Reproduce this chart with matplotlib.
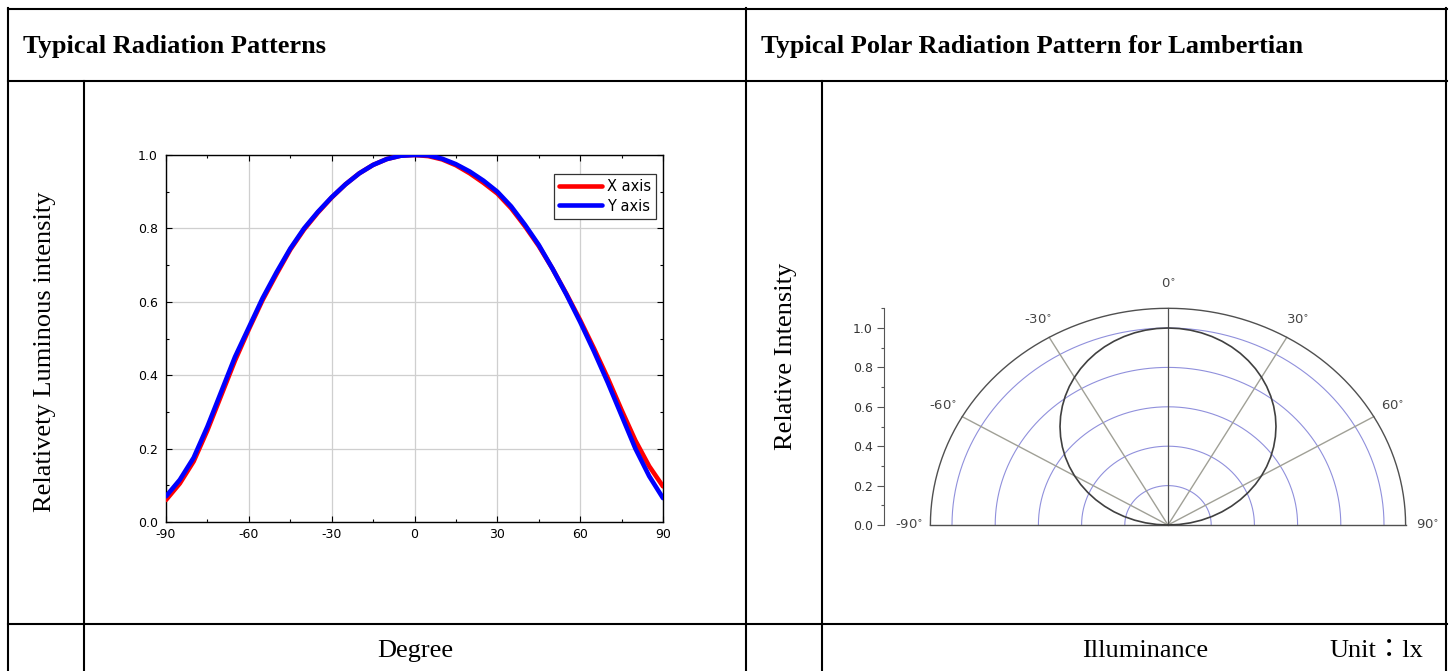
import matplotlib
matplotlib.use('Agg')
import matplotlib.pyplot as plt
from matplotlib.lines import Line2D
from matplotlib.ticker import MultipleLocator
import numpy as np

plt.rcParams['axes.unicode_minus'] = False

W, H = 1453, 671

# radiation pattern, every 5 degrees
degrees = [-90, -85, -80, -75, -70, -65, -60, -55, -50, -45, -40, -35, -30,
           -25, -20, -15, -10, -5, 0, 5, 10, 15, 20, 25, 30, 35, 40, 45, 50,
           55, 60, 65, 70, 75, 80, 85, 90]
x_axis = [0.060, 0.105, 0.165, 0.250, 0.345, 0.440, 0.525, 0.605, 0.675,
          0.742, 0.797, 0.843, 0.884, 0.920, 0.950, 0.973, 0.989, 0.998,
          1.000, 0.997, 0.988, 0.972, 0.950, 0.924, 0.895, 0.855, 0.806,
          0.752, 0.690, 0.622, 0.550, 0.473, 0.392, 0.305, 0.222, 0.152,
          0.097]
y_axis = [0.070, 0.115, 0.175, 0.260, 0.355, 0.450, 0.530, 0.610, 0.680,
          0.745, 0.800, 0.845, 0.885, 0.920, 0.950, 0.973, 0.989, 0.998,
          1.000, 0.999, 0.990, 0.975, 0.955, 0.930, 0.900, 0.860, 0.810,
          0.755, 0.690, 0.620, 0.545, 0.465, 0.380, 0.290, 0.200, 0.125,
          0.065]

# lambertian polar pattern, every 3 degrees
polar_deg = list(range(-90, 91, 3))
polar_int = [0.0000, 0.0523, 0.1045, 0.1564, 0.2079, 0.2588, 0.3090, 0.3584,
             0.4067, 0.4540, 0.5000, 0.5446, 0.5878, 0.6293, 0.6691, 0.7071,
             0.7431, 0.7771, 0.8090, 0.8387, 0.8660, 0.8910, 0.9135, 0.9336,
             0.9511, 0.9659, 0.9781, 0.9877, 0.9945, 0.9986, 1.0000, 0.9986,
             0.9945, 0.9877, 0.9781, 0.9659, 0.9511, 0.9336, 0.9135, 0.8910,
             0.8660, 0.8387, 0.8090, 0.7771, 0.7431, 0.7071, 0.6691, 0.6293,
             0.5878, 0.5446, 0.5000, 0.4540, 0.4067, 0.3584, 0.3090, 0.2588,
             0.2079, 0.1564, 0.1045, 0.0523, 0.0000]
grid_radii = [0.2, 0.4, 0.6, 0.8, 1.0]
spoke_deg = [-60, -30, 30, 60]
angle_labels = [-90, -60, -30, 0, 30, 60, 90]
r_max = 1.1

SERIF = 'Liberation Serif'
SANS = 'DejaVu Sans'


def fx(px):
    return px / W


def fy(py):
    return 1 - py / H


fig = plt.figure(figsize=(W / 100, H / 100), dpi=100, facecolor='white')

# table grid
def hline(y, x0, x1):
    fig.add_artist(Line2D([fx(x0), fx(x1)], [fy(y), fy(y)], color='black', lw=1.5))


def vline(x, y0, y1):
    fig.add_artist(Line2D([fx(x), fx(x)], [fy(y0), fy(y1)], color='black', lw=1.5))


hline(8.5, 7.5, 1446.5)
hline(81, 7.5, 1446.5)
hline(624, 7.5, 1446.5)
vline(8, 8, 671)
vline(84, 81, 671)
vline(746, 8, 671)
vline(822, 81, 671)
vline(1446, 8, 671)

fig.text(fx(23), fy(47), 'Typical Radiation Patterns', family=SERIF,
         fontweight='bold', fontsize=19, va='center', ha='left')
fig.text(fx(761), fy(47), 'Typical Polar Radiation Pattern for Lambertian',
         family=SERIF, fontweight='bold', fontsize=19, va='center', ha='left')
fig.text(fx(45), fy(352), 'Relativety Luminous intensity', family=SERIF,
         fontsize=19, rotation=90, va='center', ha='center')
fig.text(fx(786), fy(356), 'Relative Intensity', family=SERIF,
         fontsize=19, rotation=90, va='center', ha='center')
fig.text(fx(415), fy(651), 'Degree', family=SERIF, fontsize=19,
         va='center', ha='center')
fig.text(fx(1145), fy(651), 'Illuminance', family=SERIF, fontsize=19,
         va='center', ha='center')
fig.text(fx(1376), fy(651), 'Unit：lx', family=[SERIF, 'Noto Sans CJK TC'],
         fontsize=19, va='center', ha='center')

# left: cartesian radiation pattern
ax = fig.add_axes([fx(166), fy(522), (663 - 166) / W, (522 - 155) / H])
ax.plot(degrees, x_axis, color='#ff0000', lw=3.3, label='X axis', zorder=3,
        solid_joinstyle='round', solid_capstyle='round')
ax.plot(degrees, y_axis, color='#0000ff', lw=3.3, label='Y axis', zorder=4,
        solid_joinstyle='round', solid_capstyle='round')
ax.set_xlim(-90, 90)
ax.set_ylim(0, 1.0)
ax.xaxis.set_major_locator(MultipleLocator(30))
ax.xaxis.set_minor_locator(MultipleLocator(15))
ax.yaxis.set_major_locator(MultipleLocator(0.2))
ax.yaxis.set_minor_locator(MultipleLocator(0.1))
ax.yaxis.set_major_formatter(plt.FuncFormatter(lambda v, p: f'{v:.1f}'))
ax.tick_params(which='both', direction='in', top=True, right=True,
               width=0.8, labelsize=9, labelfontfamily=SANS)
ax.tick_params(axis='x', pad=4)
ax.tick_params(axis='y', pad=6)
ax.tick_params(which='major', length=4)
ax.tick_params(which='minor', length=2.5)
ax.grid(True, which='major', color='#cfcfcf', lw=0.9)
ax.set_axisbelow(True)
for s in ax.spines.values():
    s.set_linewidth(1.0)
leg = ax.legend(loc='upper right', bbox_to_anchor=(0.986, 0.948),
                borderaxespad=0, fancybox=False, framealpha=1,
                edgecolor='#333333', prop={'family': SANS, 'size': 10.5},
                handlelength=3.0, handletextpad=0.3, borderpad=0.35,
                labelspacing=0.3)
leg.get_frame().set_linewidth(0.9)

# right: polar pattern drawn on a plain axes (stretched like the source)
cx, cy, sx, sy = 1168, 525, 216, 197
pax = fig.add_axes([fx(884), fy(cy), (1452 - 884) / W, r_max * sy / H])
pax.set_xlim((884 - cx) / sx, (1452 - cx) / sx)
pax.set_ylim(0, r_max)
pax.patch.set_alpha(0)
for k in ['top', 'right', 'bottom']:
    pax.spines[k].set_visible(False)
pax.spines['left'].set_color('#555555')
pax.spines['left'].set_linewidth(0.8)
pax.set_xticks([])
pax.yaxis.set_major_locator(MultipleLocator(0.2))
pax.yaxis.set_minor_locator(MultipleLocator(0.1))
pax.yaxis.set_major_formatter(plt.FuncFormatter(lambda v, p: f'{v:.1f}'))
pax.tick_params(axis='y', which='both', direction='out', color='#555555',
                labelcolor='#333333', labelsize=9, width=0.8,
                labelfontfamily=SANS)
pax.tick_params(axis='y', which='major', length=5, pad=3)
pax.tick_params(axis='y', which='minor', length=2.5)

t = np.radians(np.linspace(-90, 90, 361))
for r in grid_radii:
    pax.plot(r * np.sin(t), r * np.cos(t), color='#9090dc', lw=0.8,
             clip_on=False, zorder=2)
pax.plot(r_max * np.sin(t), r_max * np.cos(t), color='#505050', lw=1.0,
         clip_on=False, zorder=3)
for d in spoke_deg:
    a = np.radians(d)
    pax.plot([0, r_max * np.sin(a)], [0, r_max * np.cos(a)], color='#a0a096',
             lw=1.0, clip_on=False, zorder=2)
pax.plot([0, 0], [0, r_max], color='#505050', lw=0.9, clip_on=False, zorder=3)
pax.plot([-r_max, r_max], [0, 0], color='#505050', lw=1.0, clip_on=False,
         zorder=3)

pa = np.radians(polar_deg)
pr = np.array(polar_int)
pax.plot(pr * np.sin(pa), pr * np.cos(pa), color='#404040', lw=1.2,
         clip_on=False, zorder=4, solid_joinstyle='round')

for d in angle_labels:
    a = np.radians(d)
    rr = 1.22 if d == 0 else 1.2
    pax.text(rr * np.sin(a), rr * np.cos(a), f'{d}' + r'$^{\circ}$',
             family=SANS, fontsize=9.5, color='#444444', ha='center',
             va='center', clip_on=False)

fig.savefig('out.png', dpi=100, facecolor='white')
